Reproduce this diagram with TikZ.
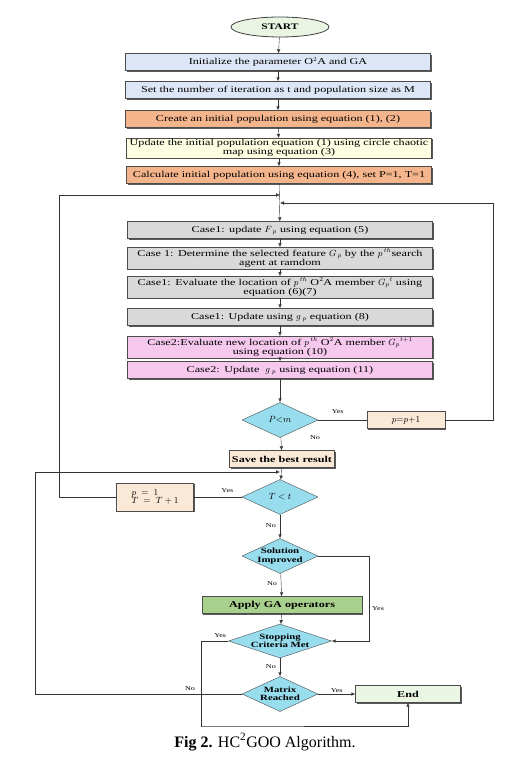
\documentclass[tikz,border=0pt]{standalone}
\usepackage{amsmath}
\usepackage{fontspec}
\setmainfont[FakeStretch=1.35]{Liberation Serif}
\newfontfamily\capfont{Liberation Serif}
\usetikzlibrary{shapes.geometric, arrows.meta, positioning, shadows}
\definecolor{StartGreen}{HTML}{EAF4E2}
\definecolor{BoxBlue}{HTML}{DDE6F6}
\definecolor{BoxOrange}{HTML}{F5B58C}
\definecolor{BoxYellow}{HTML}{FDFDE2}
\definecolor{BoxGray}{HTML}{D9D9D9}
\definecolor{BoxPink}{HTML}{F6C8EE}
\definecolor{DecCyan}{HTML}{97DDEE}
\definecolor{BoxBeige}{HTML}{FBE9D8}
\definecolor{BoxGreen}{HTML}{A9D18E}
\definecolor{EndGreen}{HTML}{EBF5E4}
\newcommand{\ota}{O$^{2}$A}

\begin{document}
\begin{tikzpicture}[x=1pt, y=-1pt,
    box/.style={rectangle, draw=black!70, text width=303pt, minimum height=17pt,
                inner xsep=1pt, inner ysep=1pt, align=center,
                font=\fontsize{9}{9.5}\selectfont,
                drop shadow={shadow xshift=1.3pt, shadow yshift=-1.3pt, fill=black!65, opacity=1}},
    smallbox/.style={rectangle, draw=black!70, minimum height=17pt, inner sep=1pt,
                font=\fontsize{9}{9.5}\selectfont,
                drop shadow={shadow xshift=1.3pt, shadow yshift=-1.3pt, fill=black!65, opacity=1}},
    decision/.style={diamond, draw=black!70, fill=DecCyan, inner sep=0pt,
                minimum width=76pt, minimum height=35pt},
    dtext/.style={align=center, inner sep=0pt, font=\fontsize{8}{8.5}\selectfont\bfseries},
    flow/.style={-{Latex[length=4pt, width=3.5pt]}, draw=black!80},
    link/.style={draw=black!80},
    lbl/.style={font=\fontsize{6}{6}\selectfont, inner sep=1pt}]
\useasboundingbox (0,0) rectangle (515,779);

% start and set-up
\node[ellipse, draw=black!75, thick, fill=StartGreen, minimum width=98pt, minimum height=20pt,
      font=\fontsize{8.5}{9}\selectfont] (start) at (280,27) {\textbf{START}};
\node[box, fill=BoxBlue] (init) at (278,62) {Initialize the parameter \ota{} and GA};
\node[box, fill=BoxBlue] (iter) at (278,90) {Set the number of iteration as t and population size as M};
\node[box, fill=BoxOrange] (create) at (278,119) {Create an initial population using equation (1), (2)};
\node[box, fill=BoxYellow] (chaos) at (279,148) {Update the initial population equation (1) using circle chaotic\\ map using equation (3)};
\node[box, fill=BoxOrange] (calc) at (279,175) {Calculate initial population using equation (4), set P=1, T=1};

% cases
\node[box, fill=BoxGray] (caseA) at (280,230) {Case1: update $F_{\;p}$ using equation (5)};
\node[box, fill=BoxGray] (caseB) at (280,258) {Case 1: Determine the selected feature $G_{\,p}$ by the $p^{\,th}$search\\ agent at ramdom};
\node[box, fill=BoxGray] (caseC) at (280,287) {Case1: Evaluate the location of $p^{\,th}$ \ota{} member $G_{p}{}^{t}$ using\\ equation (6)(7)};
\node[box, fill=BoxGray] (caseD) at (280,317) {Case1: Update using $g_{\;p}$ equation (8)};
\node[box, fill=BoxPink] (caseE) at (280,347) {Case2:Evaluate new location of $p^{\,th}$ \ota{} member $G_{p}{}^{t+1}$\\ using equation (10)};
\node[box, fill=BoxPink] (caseF) at (280,370) {Case2: Update \ $g_{\;p}$ using equation (11)};

% loops
\node[decision] (pm) at (280,420) {};
\node[dtext, font=\fontsize{9}{9}\selectfont] (pmT) at (pm) {$P{<}m$};
\node[smallbox, fill=BoxBeige, minimum width=78pt] (inc) at (406,420) {$p{=}p{+}1$};
\node[smallbox, fill=BoxBeige, minimum width=105pt] (save) at (282,459) {\textbf{Save the best result}};
\node[decision] (tt) at (280,497) {};
\node[dtext, font=\fontsize{9}{9}\selectfont] (ttT) at (tt) {$T<t$};
\node[smallbox, fill=BoxBeige, minimum width=77pt, minimum height=28pt, align=left] (reset) at (155,497) {$p\;=\;1$\\[-1pt]$T\;=\;T+1$};
\node[decision] (imp) at (280,556) {};
\node[dtext] (impT) at (imp) {Solution\\Improved};
\node[smallbox, fill=BoxGreen, minimum width=160pt] (ga) at (282,605) {\textbf{Apply GA operators}};
\node[decision, minimum width=103pt, minimum height=34pt] (stop) at (280,641) {};
\node[dtext] (stopT) at (stop) {Stopping\\Criteria Met};
\node[decision] (mat) at (280,694) {};
\node[dtext] (matT) at (mat) {Matrix\\Reached};
\node[smallbox, fill=EndGreen, minimum width=105pt] (end) at (408,694) {\textbf{End}};

\coordinate (jA) at (280,195);
\coordinate (jB) at (280,203);
\coordinate (jC) at (280,472);
\coordinate (leftA) at (59,195);
\coordinate (rightB) at (493,203);
\coordinate (leftC) at (36,472);
\coordinate (impR) at (369,641);
\coordinate (stopL) at (202,726);

% main column
\draw[flow] (start) -- (init);
\draw[flow] (init) -- (iter);
\draw[flow] (iter) -- (create);
\draw[flow] (create) -- (chaos);
\draw[flow] (chaos) -- (calc);
\draw[flow] (calc) -- (caseA);
\draw[flow] (caseA) -- (caseB);
\draw[flow] (caseB) -- (caseC);
\draw[flow] (caseC) -- (caseD);
\draw[flow] (caseD) -- (caseE);
\draw[flow] (caseE) -- (caseF);
\draw[flow] (caseF) -- (pm);
\draw[flow] (pm) -- node[lbl, right=28pt, pos=0.05] (noA) {No} (save);
\draw[flow] (save) -- (tt);
\draw[flow] (tt) -- node[lbl, left=3pt, pos=0.45] (noB) {No} (imp);
\draw[flow] (imp) -- node[lbl, left=3pt, pos=0.45] (noC) {No} (ga);
\draw[flow] (ga) -- (stop);
\draw[flow] (stop) -- node[lbl, left=3pt, pos=0.45] (noD) {No} (mat);

% side branches
\draw[link] (pm.east) -- node[lbl, above=5pt, pos=0.4] (yesA) {Yes} (inc.west);
\draw[flow] (inc.east) -| (rightB) -- (jB);
\draw[link] (tt.west) -- node[lbl, above=3pt, pos=0.3] (yesB) {Yes} (reset.east);
\draw[flow] (reset.west) -| (leftA) -- (jA);
\draw[flow] (imp.east) -| node[lbl, right=2pt, pos=0.81] (yesC) {Yes} (impR) -- (stop.east);
\draw[flow] (stop.west) -- node[lbl, above=2pt, pos=0.3] (yesD) {Yes} ++(-27,0) |- (stopL) -| (end.south);
\draw[flow] (mat.east) -- node[lbl, above=0pt, pos=0.5] (yesE) {Yes} (end.west);
\draw[flow] (mat.west) -- node[lbl, above=2pt, pos=0.25] (noE) {No} ++(-207,0) |- (jC);

% caption
\node[font=\capfont\fontsize{16}{16}\selectfont] (caption) at (265,742) {\textbf{Fig 2.} HC\textsuperscript{2}GOO Algorithm.};
\end{tikzpicture}
\end{document}
